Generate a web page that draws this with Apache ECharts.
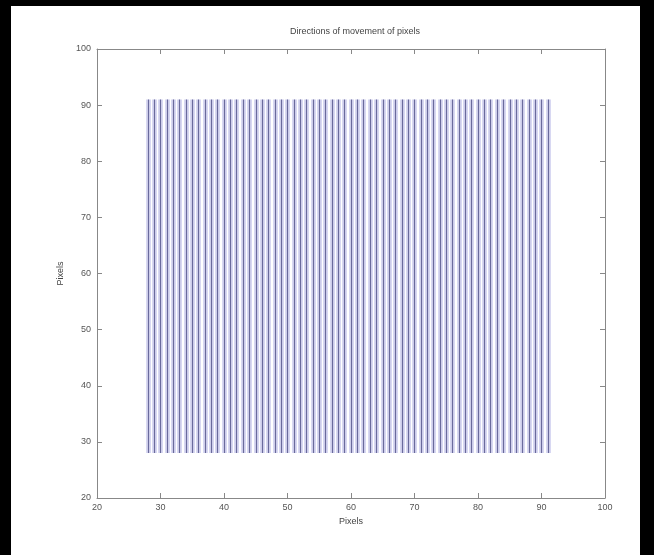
<!DOCTYPE html>
<html>
<head>
<meta charset="utf-8">
<script src="https://cdn.jsdelivr.net/npm/echarts@6/dist/echarts.min.js"></script>
<style>
html,body{margin:0;padding:0;background:#000;width:654px;height:555px;overflow:hidden;}
#c{position:absolute;left:11px;top:6px;width:629px;height:549px;background:#fff;}
</style>
</head>
<body>
<div id="c"></div>
<script>
// Column positions of the quiver grid (pixels)
var columnsX = [28,29,30,31,32,33,34,35,36,37,38,39,40,41,42,43,44,45,46,47,48,49,50,51,52,53,54,55,56,57,58,59,60,61,62,63,64,65,66,67,68,69,70,71,72,73,74,75,76,77,78,79,80,81,82,83,84,85,86,87,88,89,90,91];
// Vertical extent of each column
var rowStart = 28;
var rowEnd = 91;
var titleText = 'Directions of movement of pixels';
var xName = 'Pixels';
var yName = 'Pixels';

var chart = echarts.init(document.getElementById('c'), null, {renderer:'canvas'});
var lineData = columnsX.map(function(x){ return {coords: [[x, rowStart],[x, rowEnd]]}; });

var axisCommon = {
  type:'value', min:20, max:100, interval:10,
  axisLine:{show:true, onZero:false, lineStyle:{color:'#888', width:1}},
  axisTick:{show:true, inside:true, length:5, lineStyle:{color:'#888'}},
  splitLine:{show:false}
};

chart.setOption({
  animation:false,
  backgroundColor:'#fff',
  title:{text:titleText, left:339, top:16, textAlign:'center',
    textStyle:{fontSize:9, fontWeight:'normal', color:'#444', fontFamily:'Liberation Sans'}},
  grid:{left:86, right:35, top:43, bottom:57},
  xAxis:[
    Object.assign({}, axisCommon, {position:'bottom', name:xName, nameLocation:'middle', nameGap:19,
      nameTextStyle:{fontSize:9, color:'#444', fontFamily:'Liberation Sans'},
      axisLabel:{fontSize:9, color:'#555', margin:5, fontFamily:'Liberation Sans'}}),
    Object.assign({}, axisCommon, {position:'top', axisLabel:{show:false}})
  ],
  yAxis:[
    Object.assign({}, axisCommon, {position:'left', name:yName, nameLocation:'middle', nameGap:28,
      nameTextStyle:{fontSize:9, color:'#444', fontFamily:'Liberation Sans'},
      axisLabel:{fontSize:9, color:'#555', margin:6, fontFamily:'Liberation Sans'}}),
    Object.assign({}, axisCommon, {position:'right', axisLabel:{show:false}})
  ],
  series:[
    {type:'lines', coordinateSystem:'cartesian2d', xAxisIndex:0, yAxisIndex:0, polyline:false,
     silent:true, lineStyle:{color:'#d8d8f2', width:5, opacity:1}, data:lineData},
    {type:'lines', coordinateSystem:'cartesian2d', xAxisIndex:0, yAxisIndex:0, polyline:false,
     silent:true, lineStyle:{color:'#6a6a9c', width:1.2, opacity:1}, data:lineData}
  ]
});
</script>
</body>
</html>
